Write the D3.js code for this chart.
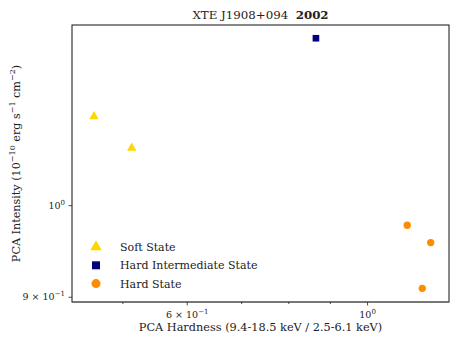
<!DOCTYPE html>
<html>
<head>
<meta charset="utf-8">
<script src="https://cdn.jsdelivr.net/npm/d3@7"></script>
<style>
  body { margin: 0; background: #fff; }
  text { font-family: "DejaVu Serif", "Liberation Serif", serif; fill: #222; }
</style>
</head>
<body>
<div id="root"></div>
<script>
// data
var softHardness = [0.4607, 0.5127];
var softIntensity = [1.108, 1.0686];
var himsHardness = [0.8639];
var himsIntensity = [1.2124];
var hardHardness = [1.1188, 1.1958, 1.1676];
var hardIntensity = [0.9777, 0.9584, 0.9093];
var legendLabels = ["Soft State", "Hard Intermediate State", "Hard State"];
var xTicks = [0.5, 0.6, 0.7, 0.8, 0.9, 1.0];
var yTicks = [0.9, 1.0];

var W = 463, H = 347;
var margin = { top: 25, right: 14, bottom: 45, left: 72 };
var width = W - margin.left - margin.right;
var height = H - margin.top - margin.bottom;

var svg = d3.select("#root").append("svg")
    .attr("width", W)
    .attr("height", H);

var g = svg.append("g")
    .attr("transform", "translate(" + margin.left + "," + margin.top + ")");

var x = d3.scaleLog().domain([0.4329, 1.2594]).range([0, width]);
var y = d3.scaleLog().domain([0.8951, 1.231]).range([height, 0]);

// frame
g.append("rect")
    .attr("width", width)
    .attr("height", height)
    .attr("fill", "none")
    .attr("stroke", "#111")
    .attr("stroke-width", 1);

// x ticks
var xMajor = { 0.6: ["6 \u00d7 10", "\u22121"], 1: ["10", "0"] };
var xt = g.append("g").attr("transform", "translate(0," + height + ")");
xt.append("line").attr("x1", 0).attr("x2", width).attr("stroke", "#666").attr("stroke-width", 1.2);
xTicks.forEach(function (v) {
    var major = xMajor[v] != null;
    xt.append("line")
        .attr("x1", x(v)).attr("x2", x(v))
        .attr("y1", 0).attr("y2", major ? 3.5 : 2)
        .attr("stroke", "#222").attr("stroke-width", 0.8);
    if (major) {
        var t = xt.append("text")
            .attr("x", x(v)).attr("y", 16)
            .attr("text-anchor", "middle")
            .style("font-size", "9.5px");
        t.append("tspan").text(xMajor[v][0]);
        t.append("tspan").attr("dy", -4).style("font-size", "7px").text(xMajor[v][1]);
    }
});

// y ticks
var yLabels = { 0.9: ["9 \u00d7 10", "\u22121"], 1: ["10", "0"] };
var yt = g.append("g");
yTicks.forEach(function (v) {
    yt.append("line")
        .attr("x1", 0).attr("x2", -3.5)
        .attr("y1", y(v)).attr("y2", y(v))
        .attr("stroke", "#222").attr("stroke-width", 0.8);
    var t = yt.append("text")
        .attr("x", -7).attr("y", y(v) + 3)
        .attr("text-anchor", "end")
        .style("font-size", "9.5px");
    t.append("tspan").text(yLabels[v][0]);
    t.append("tspan").attr("dy", -4).style("font-size", "7px").text(yLabels[v][1]);
});

// points
function drawSeries(xs, ys, type, size, color) {
    var sym = d3.symbol().type(type).size(size);
    g.selectAll(null)
        .data(xs.map(function (d, i) { return [d, ys[i]]; }))
        .enter().append("path")
        .attr("d", sym)
        .attr("transform", function (d) { return "translate(" + x(d[0]) + "," + y(d[1]) + ")"; })
        .attr("fill", color);
}
drawSeries(softHardness, softIntensity, d3.symbolTriangle, 38, "#FFD700");
drawSeries(himsHardness, himsIntensity, d3.symbolSquare, 44, "#000080");
drawSeries(hardHardness, hardIntensity, d3.symbolCircle, 42, "#FF8C00");

// legend
var legendSyms = [
    { type: d3.symbolTriangle, size: 58, color: "#FFD700" },
    { type: d3.symbolSquare, size: 64, color: "#000080" },
    { type: d3.symbolCircle, size: 64, color: "#FF8C00" }
];
var lg = g.append("g");
legendLabels.forEach(function (lab, i) {
    var ly = 222 + i * 18.3;
    lg.append("path")
        .attr("d", d3.symbol().type(legendSyms[i].type).size(legendSyms[i].size))
        .attr("transform", "translate(24," + ly + ")")
        .attr("fill", legendSyms[i].color);
    lg.append("text")
        .attr("x", 48).attr("y", ly + 4)
        .style("font-size", "11px")
        .text(lab);
});

// title
var title = svg.append("text")
    .attr("x", margin.left + width / 2).attr("y", 19)
    .attr("text-anchor", "middle")
    .style("font-size", "11.8px");
title.append("tspan").text("XTE J1908+094\u00a0\u00a0");
title.append("tspan").style("font-weight", "bold").text("2002");

// axis labels
svg.append("text")
    .attr("x", margin.left + width / 2).attr("y", 331)
    .attr("text-anchor", "middle")
    .style("font-size", "11.3px")
    .text("PCA Hardness (9.4-18.5 keV / 2.5-6.1 keV)");

var yl = svg.append("text")
    .attr("transform", "translate(20," + (margin.top + height / 2) + ") rotate(-90)")
    .attr("text-anchor", "middle")
    .style("font-size", "11.2px");
yl.append("tspan").text("PCA Intensity (10");
yl.append("tspan").attr("dy", -5).style("font-size", "8px").text("\u221210");
yl.append("tspan").attr("dy", 5).text(" erg s");
yl.append("tspan").attr("dy", -5).style("font-size", "8px").text("\u22121");
yl.append("tspan").attr("dy", 5).text(" cm");
yl.append("tspan").attr("dy", -5).style("font-size", "8px").text("\u22122");
yl.append("tspan").attr("dy", 5).text(")");
</script>
</body>
</html>
